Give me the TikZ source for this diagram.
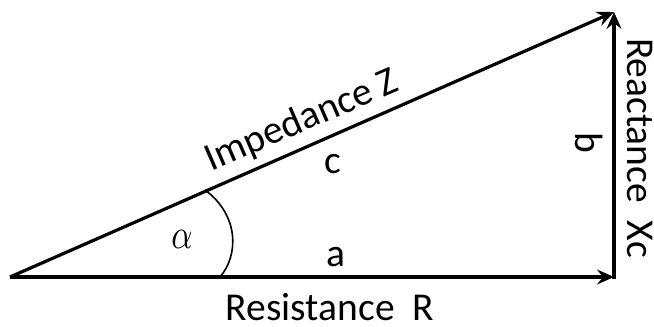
\documentclass[tikz,border=0pt]{standalone}
\usepackage{fontspec}
\setmainfont{Carlito}
\usetikzlibrary{arrows.meta}
\begin{document}
\begin{tikzpicture}[x=1pt,y=-1pt,
  side/.style={line width=3.2pt,-{Stealth[length=17pt,width=15pt,inset=6pt]}},
  lbl/.style={font=\fontsize{39.5}{42}\selectfont,inner sep=0pt},
  edgelbl/.style={lbl,anchor=base,text height=25pt,text depth=0pt},
  angarc/.style={line width=1.6pt}]
\useasboundingbox (0,0) rectangle (654,327);
\coordinate (A) at (10,277);
\coordinate (B) at (614,277);
\coordinate (Bl) at (614,279);
\coordinate (C) at (614,12);
\draw[side] (A) -- (B);
\draw[side] (Bl) -- (C);
\draw[side] (A) -- (C);
\coordinate (a1) at (220,277);
\coordinate (a2) at (205,190);
\draw[angarc] (a1) .. controls (239,255) and (239,215) .. (a2);
\node[inner sep=0pt] (alpha) at (182,239) {\scalebox{3.3}[4.2]{$\alpha$}};
\node[lbl] (imp) at (302,121) [rotate=23.4] {Impedance Z};
\node[lbl] (c) at (333,164) {c};
\node[lbl] (a) at (336,257) {a};
\node[edgelbl] (res) at (330,320) {Resistance\ \ R};
\node[lbl] (b) at (589,143) [rotate=-90] {b};
\node[edgelbl,rotate=-90] (reac) at (627,148) {Reactance\ \ Xc};
\end{tikzpicture}
\end{document}
